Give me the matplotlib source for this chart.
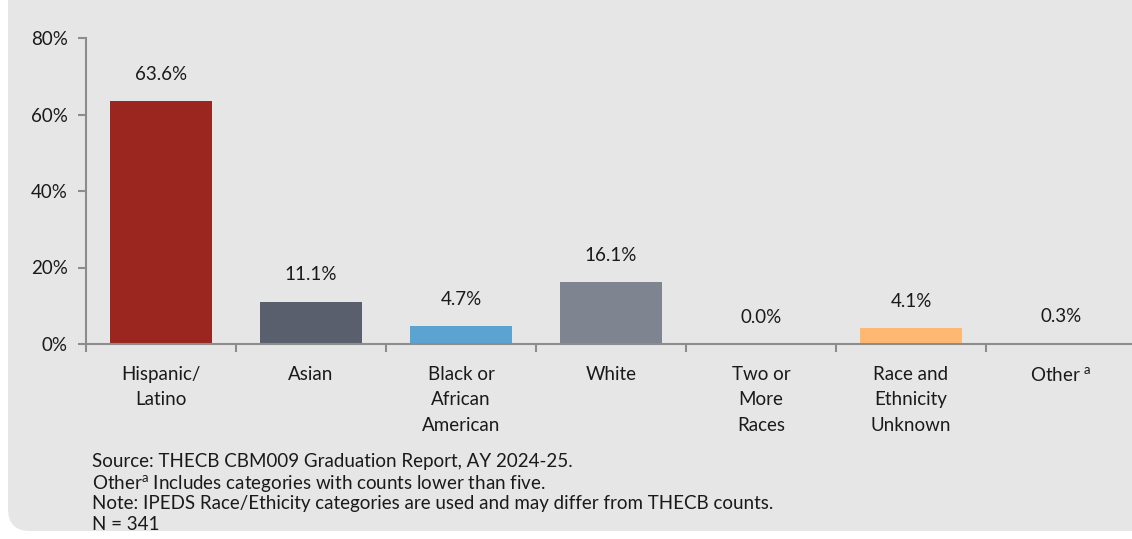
import matplotlib
matplotlib.use("Agg")
import matplotlib.pyplot as plt
from matplotlib.patches import FancyBboxPatch
from matplotlib.ticker import PercentFormatter

plt.rcParams['font.family'] = ['Lato', 'DejaVu Sans']
plt.rcParams['mathtext.fontset'] = 'custom'
plt.rcParams['mathtext.rm'] = 'Lato'
plt.rcParams['mathtext.it'] = 'Lato:italic'

categories = ["Hispanic/\nLatino", "Asian", "Black or\nAfrican\nAmerican", "White",
              "Two or\nMore\nRaces", "Race and\nEthnicity\nUnknown", "Other $^{\\mathrm{a}}$"]
values = [63.6, 11.1, 4.7, 16.1, 0.0, 4.1, 0.3]
colors = ["#9B2620", "#5A5F6D", "#5BA3D0", "#7F8590", "#7F8590", "#FFB872", "#4A4E58"]
yticks = [0, 20, 40, 60, 80]
notes = ["Source: THECB CBM009 Graduation Report, AY 2024-25.",
         "Other$^{\\mathrm{a}}$ Includes categories with counts lower than five.",
         "Note: IPEDS Race/Ethicity categories are used and may differ from THECB counts.",
         "N = 341"]

W, H = 1132, 539
fig = plt.figure(figsize=(W / 100, H / 100), dpi=100)
fig.patch.set_facecolor("white")

# background panel in pixel coordinates
bg = fig.add_axes([0, 0, 1, 1], zorder=-1)
bg.set_xlim(0, W)
bg.set_ylim(H, 0)
bg.axis("off")
bg.add_patch(FancyBboxPatch((8, -40), W + 100, 40 + 531,
                            boxstyle="round,pad=0,rounding_size=22",
                            facecolor="#E6E6E6", edgecolor="none"))

ax_left = 86 / W
ax_right = 1136 / W
ax_bottom = (H - 344) / H
ax_top = (H - 38) / H
ax = fig.add_axes([ax_left, ax_bottom, ax_right - ax_left, ax_top - ax_bottom], zorder=1)
ax.set_facecolor("none")

x = list(range(len(categories)))
ax.bar(x, values, width=0.68, color=colors, zorder=2)
ax.set_xlim(-0.5, len(categories) - 0.5)
ax.set_ylim(0, 80)

for xi, v in zip(x, values):
    ax.annotate(f"{v:.1f}%", (xi, v), xytext=(0, 13), textcoords="offset points",
                ha="center", va="bottom", fontsize=13.5, color="#1a1a1a")

ax.set_yticks(yticks)
ax.yaxis.set_major_formatter(PercentFormatter(decimals=0))
ax.set_xticks(x)
ax.set_xticklabels(categories, fontsize=13.5, linespacing=1.62, color="#1a1a1a", va="top")
ax.tick_params(axis="x", length=0, pad=15.5)
ax.set_xticks([i - 0.5 for i in range(len(categories) + 1)], minor=True)
ax.tick_params(axis="x", which="minor", length=6, width=1.5, color="#8C8C8C")
ax.tick_params(axis="y", length=6, width=1.5, color="#8C8C8C", labelsize=13.5,
               labelcolor="#1a1a1a", pad=7)

for s in ["top", "right"]:
    ax.spines[s].set_visible(False)
for s in ["left", "bottom"]:
    ax.spines[s].set_color("#8C8C8C")
    ax.spines[s].set_linewidth(1.5)

y0 = 462
for i, line in enumerate(notes):
    fig.text(92 / W, 1 - (y0 + 21 * i) / H, line, fontsize=13.5, color="#1a1a1a",
             ha="left", va="center")

fig.savefig("out.png", dpi=100, facecolor=fig.get_facecolor())
